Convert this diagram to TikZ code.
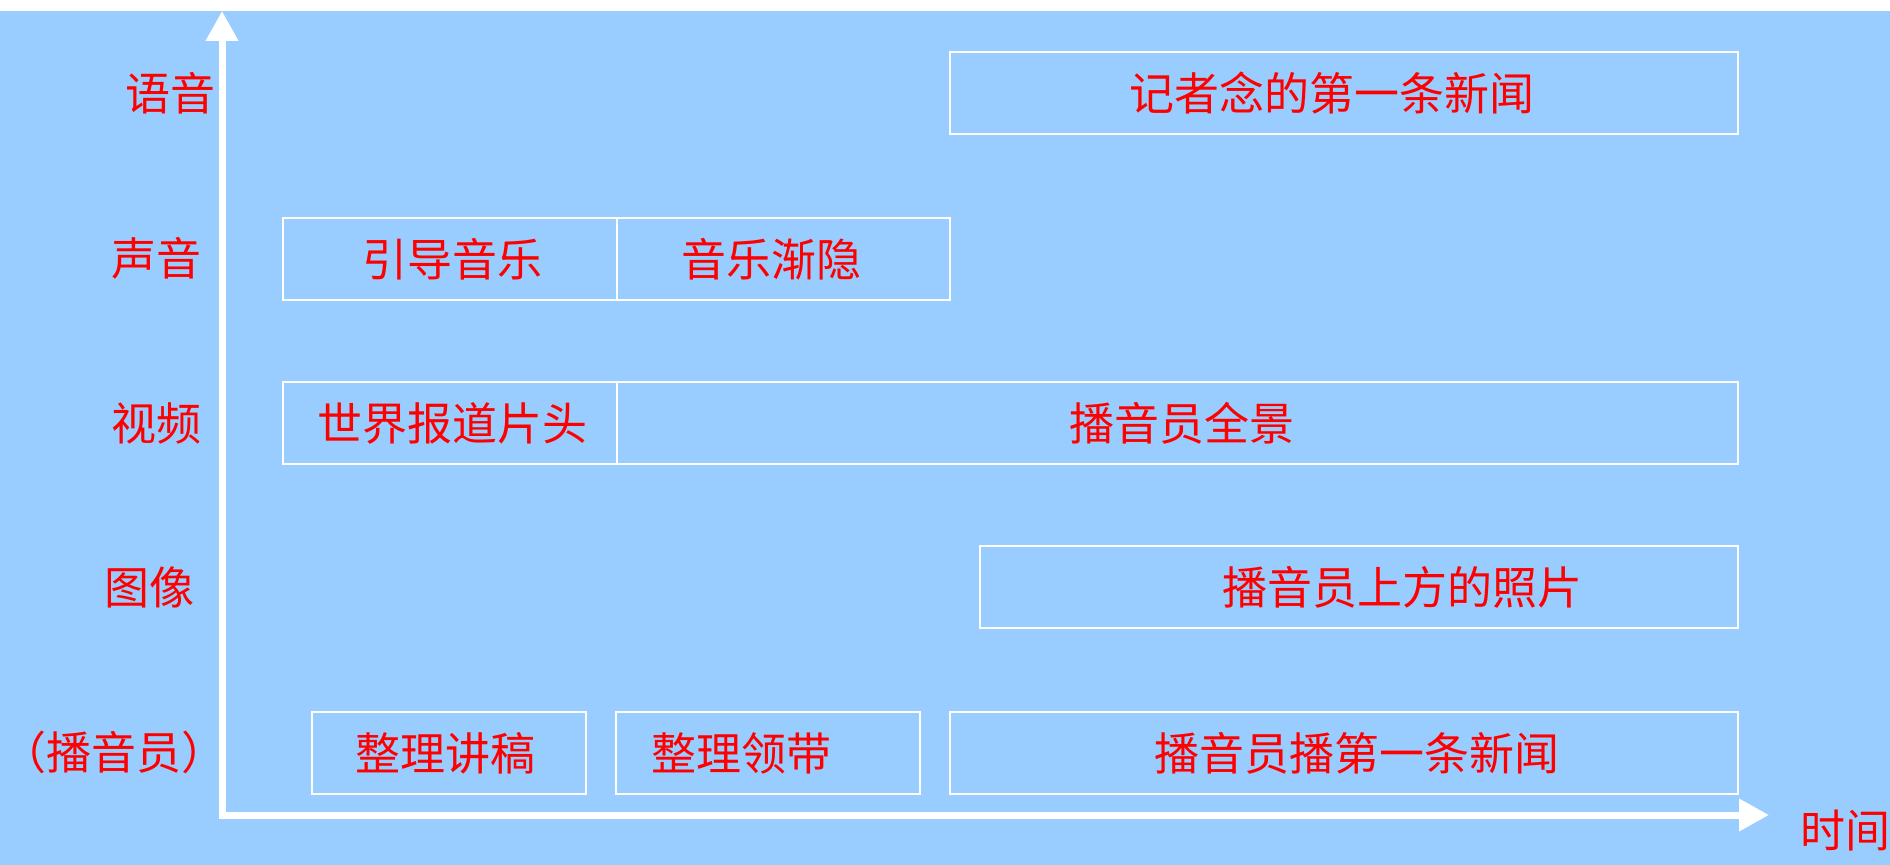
\documentclass[tikz,border=0pt]{standalone}
\usepackage{fontspec}
\newfontfamily\cjk{Noto Sans CJK SC}
\usetikzlibrary{arrows.meta,fit}
\definecolor{bgblue}{HTML}{99CCFF}
\definecolor{txtred}{HTML}{FF0000}
\tikzset{
  boxframe/.style={draw=white, line width=0.6pt, inner sep=0pt},
  lbl/.style={text=txtred, font=\cjk\fontsize{18}{20}\selectfont, inner sep=0pt, anchor=center},
  axisline/.style={draw=white, line width=2.8pt, {Triangle[width=12.4pt,length=12pt]}-{Triangle[width=12.4pt,length=12pt]}}
}
\begin{document}
\begin{tikzpicture}[x=0.4pt,y=-0.4pt]
\useasboundingbox (0,0) rectangle (1890,865);
\fill[white] (0,0) rectangle (1890,11);
\fill[bgblue] (0,11) rectangle (1890,865);
% axes
\coordinate (ytop) at (222,11);
\coordinate (orig) at (222,815);
\coordinate (xend) at (1769,815);
\draw[axisline] (ytop) -- (orig) -- (xend);
% row labels
\node[lbl] (l1) at (170,93) {语音};
\node[lbl] (l2) at (156,258) {声音};
\node[lbl] (l3) at (156,423) {视频};
\node[lbl] (l4) at (149,587) {图像};
\node[lbl] (l5) at (114,752) {（播音员）};
\node[lbl] (lt) at (1845,831) {时间};
% boxes
\node[boxframe, fit={(950,52) (1738,134)}] (b1) {};
\node[boxframe, fit={(283,218) (617,300)}] (b21) {};
\node[boxframe, fit={(617,218) (950,300)}] (b22) {};
\node[boxframe, fit={(283,382) (617,464)}] (b31) {};
\node[boxframe, fit={(617,382) (1738,464)}] (b32) {};
\node[boxframe, fit={(980,546) (1738,628)}] (b4) {};
\node[boxframe, fit={(312,712) (586,794)}] (b51) {};
\node[boxframe, fit={(616,712) (920,794)}] (b52) {};
\node[boxframe, fit={(950,712) (1738,794)}] (b53) {};
% box texts
\node[lbl] (t1) at (1332,93) {记者念的第一条新闻};
\node[lbl] (t21) at (452,259) {引导音乐};
\node[lbl] (t22) at (771,259) {音乐渐隐};
\node[lbl] (t31) at (452,423) {世界报道片头};
\node[lbl] (t32) at (1182,423) {播音员全景};
\node[lbl] (t4) at (1402,587) {播音员上方的照片};
\node[lbl] (t51) at (445,753) {整理讲稿};
\node[lbl] (t52) at (741,753) {整理领带};
\node[lbl] (t53) at (1357,753) {播音员播第一条新闻};
\end{tikzpicture}
\end{document}
